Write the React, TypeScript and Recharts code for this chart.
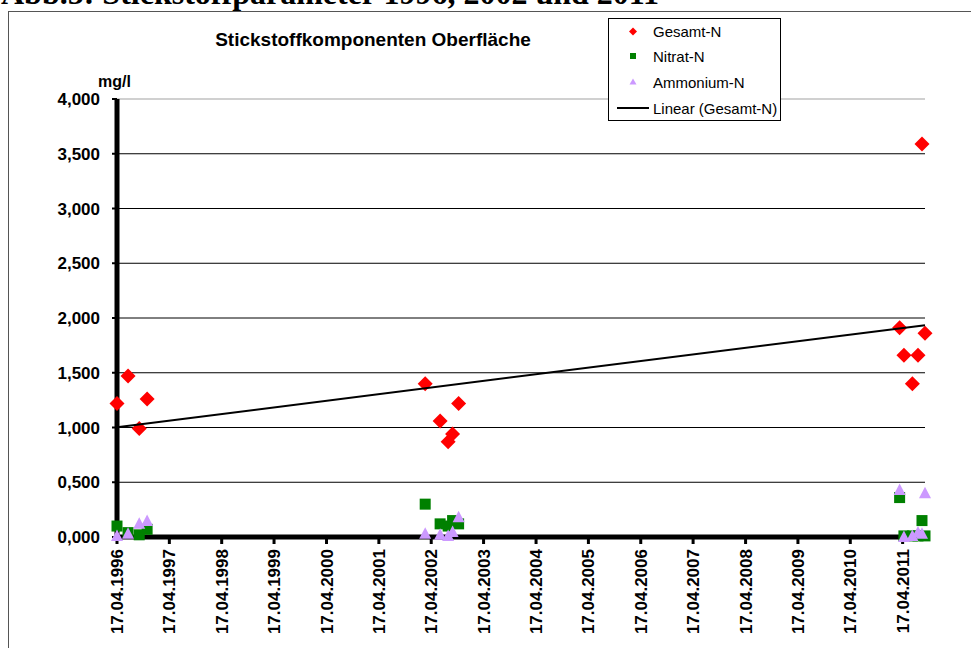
import {
  ScatterChart,
  Scatter,
  XAxis,
  YAxis,
  CartesianGrid,
  ReferenceLine,
} from "recharts";

const FONT = "'Liberation Sans', Arial, sans-serif";

// Probenahmedaten (Datum, mg/l)
const sampleDates = [
  "17.04.1996", "03.07.1996", "19.09.1996", "13.11.1996",
  "06.03.2002", "18.06.2002", "13.08.2002", "13.09.2002", "25.10.2002",
  "27.03.2011", "26.04.2011", "24.06.2011", "02.08.2011", "30.08.2011", "20.09.2011",
];
const gesamtN = [1.22, 1.47, 0.99, 1.26, 1.4, 1.06, 0.87, 0.94, 1.22, 1.91, 1.66, 1.4, 1.66, 3.59, 1.86];
const nitratN = [0.1, 0.04, 0.02, 0.07, 0.3, 0.12, 0.1, 0.15, 0.12, 0.36, 0.01, 0.01, 0.01, 0.15, 0.01];
const ammoniumN = [0.01, 0.03, 0.12, 0.145, 0.03, 0.02, 0.01, 0.045, 0.18, 0.43, 0.0, 0.01, 0.04, 0.03, 0.4];

const xTickLabels = [
  "17.04.1996", "17.04.1997", "17.04.1998", "17.04.1999", "17.04.2000", "17.04.2001",
  "17.04.2002", "17.04.2003", "17.04.2004", "17.04.2005", "17.04.2006", "17.04.2007",
  "17.04.2008", "17.04.2009", "17.04.2010", "17.04.2011",
];
const yTicks = [0, 0.5, 1, 1.5, 2, 2.5, 3, 3.5, 4];

const parseDate = (s: string) => {
  const [d, m, y] = s.split(".").map(Number);
  return Date.UTC(y, m - 1, d);
};

const times = sampleDates.map(parseDate);
const xTicks = xTickLabels.map(parseDate);
const xMin = xTicks[0];
const xMax = times[times.length - 1];

const toPoints = (vals: number[]) => vals.map((v, i) => ({ t: times[i], v }));
const gesamtData = toPoints(gesamtN);
const nitratData = toPoints(nitratN);
const ammoniumData = toPoints(ammoniumN);

// lineare Regression wie Excel-Trendlinie
const meanT = times.reduce((a, b) => a + b, 0) / times.length;
const meanV = gesamtN.reduce((a, b) => a + b, 0) / gesamtN.length;
let sxy = 0;
let sxx = 0;
times.forEach((t, i) => {
  sxy += (t - meanT) * (gesamtN[i] - meanV);
  sxx += (t - meanT) * (t - meanT);
});
const slope = sxy / sxx;
const trendData = [xMin, xMax].map((t) => ({ t, v: meanV + slope * (t - meanT) }));

const fmtY = (v: number) => v.toFixed(3).replace(".", ",");
const fmtX = (v: number) => xTickLabels[xTicks.indexOf(v)] ?? "";

const Diamond = (p: any) => (
  <polygon
    points={`${p.cx},${p.cy - 7.5} ${p.cx + 7.5},${p.cy} ${p.cx},${p.cy + 7.5} ${p.cx - 7.5},${p.cy}`}
    fill="#ff0000"
  />
);
const Square = (p: any) => (
  <rect x={p.cx - 5.5} y={p.cy - 5.5} width={11} height={11} fill="#008000" />
);
const Triangle = (p: any) => (
  <polygon
    points={`${p.cx},${p.cy - 6.5} ${p.cx + 6},${p.cy + 5} ${p.cx - 6},${p.cy + 5}`}
    fill="#cc99ff"
  />
);
const NoShape = () => <g />;

const XTick = ({ x, y, payload }: any) => (
  <text
    x={x + 6}
    y={y}
    transform={`rotate(-90, ${x + 6}, ${y})`}
    textAnchor="end"
    fontSize={17}
    fontWeight="bold"
    fontFamily={FONT}
    fill="#000"
  >
    {fmtX(payload.value)}
  </text>
);

const legendRows = [
  { name: "Gesamt-N", y: 13 },
  { name: "Nitrat-N", y: 38 },
  { name: "Ammonium-N", y: 64 },
  { name: "Linear (Gesamt-N)", y: 90 },
];

const LegendBox = () => (
  <div
    style={{
      position: "absolute",
      left: 608,
      top: 18,
      width: 173,
      height: 103,
      border: "1px solid #000",
      boxSizing: "border-box",
      background: "#fff",
    }}
  >
    <svg width={171} height={101} style={{ display: "block" }}>
      <polygon points="24,8.5 28,12.5 24,16.5 20,12.5" fill="#ff0000" />
      <rect x={21} y={34} width={6} height={6} fill="#008000" />
      <polygon points="24,59.5 27.5,65.5 20.5,65.5" fill="#cc99ff" />
      <line x1={8} x2={40} y1={89} y2={89} stroke="#000" strokeWidth={2} />
      {legendRows.map((r) => (
        <text key={r.name} x={44} y={r.y + 5} fontSize={15} fontFamily={FONT} fill="#000">
          {r.name}
        </text>
      ))}
    </svg>
  </div>
);

export default function App() {
  return (
    <div
      style={{
        position: "absolute",
        left: 0,
        top: 0,
        width: 971,
        height: 648,
        overflow: "hidden",
        background: "#fff",
      }}
    >
      <svg width={971} height={648} style={{ position: "absolute", left: 0, top: 0 }}>
        <text x={1} y={4} fontSize={32} fontWeight="bold" fontFamily="'Liberation Serif', 'Times New Roman', serif" fill="#000">
          Abb.5: Stickstoffparameter 1996, 2002 und 2011
        </text>
        <rect x={8.5} y={11.5} width={980} height={660} fill="none" stroke="#555" strokeWidth={1} />
        <text x={373} y={46} textAnchor="middle" fontSize={19} fontWeight="bold" fontFamily={FONT} fill="#000">
          Stickstoffkomponenten Oberfläche
        </text>
        <text x={98} y={87} fontSize={16} fontWeight="bold" fontFamily={FONT} fill="#000">
          mg/l
        </text>
      </svg>
      <div style={{ position: "absolute", left: 0, top: 0 }}>
        <ScatterChart width={971} height={648} margin={{ top: 99, right: 46, bottom: 10, left: 20 }}>
          <CartesianGrid vertical={false} stroke="#000" horizontalValues={[0.5, 1, 1.5, 2, 2.5, 3, 3.5]} />
          <ReferenceLine y={4} stroke="#c0c0c0" strokeWidth={1.5} />
          <XAxis
            type="number"
            dataKey="t"
            domain={[xMin, xMax]}
            ticks={xTicks}
            interval={0}
            height={101}
            axisLine={{ stroke: "#000", strokeWidth: 5 }}
            tickLine={{ stroke: "#000", strokeWidth: 3 }}
            tickSize={7}
            tickMargin={5}
            tick={<XTick />}
          />
          <YAxis
            type="number"
            dataKey="v"
            domain={[0, 4]}
            ticks={yTicks}
            interval={0}
            width={97}
            axisLine={{ stroke: "#000", strokeWidth: 5 }}
            tickLine={{ stroke: "#000", strokeWidth: 2 }}
            tickSize={5}
            tickMargin={12}
            tickFormatter={fmtY}
            tick={{ fontSize: 17, fontWeight: "bold", fill: "#000", fontFamily: FONT }}
          />
          <Scatter name="Gesamt-N" data={gesamtData} shape={Diamond} isAnimationActive={false} />
          <Scatter name="Nitrat-N" data={nitratData} shape={Square} isAnimationActive={false} />
          <Scatter name="Ammonium-N" data={ammoniumData} shape={Triangle} isAnimationActive={false} />
          <Scatter
            name="Linear (Gesamt-N)"
            data={trendData}
            shape={NoShape}
            line={{ stroke: "#000", strokeWidth: 2 }}
            isAnimationActive={false}
          />
        </ScatterChart>
      </div>
      <LegendBox />
    </div>
  );
}
